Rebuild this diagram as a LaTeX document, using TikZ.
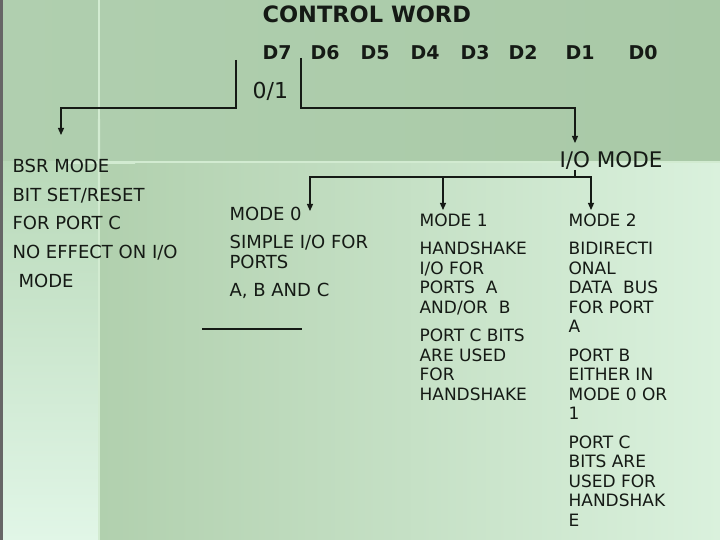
\documentclass[tikz,border=0pt]{standalone}
\usepackage{fontspec}
\setmainfont{DejaVu Sans}
\usetikzlibrary{positioning,arrows.meta}

\definecolor{bandgreen}{HTML}{B0CFAF}
\definecolor{banddark}{HTML}{A9C9A7}
\definecolor{colgreen}{HTML}{B9D9B9}
\definecolor{colpale}{HTML}{E1F6E7}
\definecolor{maingreen}{HTML}{B1D0AE}
\definecolor{mainpale}{HTML}{DAF1DD}
\definecolor{seam}{HTML}{D2EBD1}
\definecolor{glow}{HTML}{5FD65F}
\definecolor{ink}{HTML}{151A15}

\begin{document}
\begin{tikzpicture}[x=1pt, y=-1pt, >=Stealth, line width=1.2pt,
  txt/.style={inner sep=0pt, text=ink},
  bit/.style={txt, anchor=base west, font=\bfseries\fontsize{19}{22}\selectfont},
  col/.style={txt, anchor=north west, align=left,
              font=\fontsize{17}{19.5}\selectfont},
  widecol/.style={col, font=\fontsize{18}{20}\selectfont},
  arr/.style={draw=ink, -{Triangle[width=6pt,length=7pt]}},
  wire/.style={draw=ink}]
  \useasboundingbox (0,0) rectangle (720,540);
  % slide background
  \shade[left color=bandgreen, right color=banddark] (0,0) rectangle (720,162);
  \shade[top color=colgreen, bottom color=colpale] (3,162) rectangle (98,540);
  \shade[left color=maingreen, right color=mainpale] (100,162) rectangle (720,540);
  \fill[black!60] (0,0) rectangle (3,540);
  \fill[seam] (98,0) rectangle (100,540);
  \fill[seam] (100,161.5) rectangle (720,163.5);
  \shade[top color=seam, middle color=glow, bottom color=seam] (97.8,120) rectangle (100.2,205);
  \shade[left color=seam, middle color=glow, right color=seam] (65,161.3) rectangle (135,163.7);

  % heading and bits
  \node[txt, anchor=base west, font=\bfseries\fontsize{22.5}{26}\selectfont]
    (cw) at (262,23) {CONTROL WORD};
  \foreach \b/\x in {7/262,6/310,5/360,4/410,3/460,2/508,1/565,0/628}
    \node[bit] (d\b) at (\x,60) {D\b};
  \node[txt, anchor=base west, font=\fontsize{22}{24}\selectfont]
    (sel) at (252,99) {0/1};

  % modes
  \node[txt, anchor=base west, font=\fontsize{21.5}{24}\selectfont]
    (io) at (559,168) {I/O MODE};
  \node[widecol] (bsr) at (12,158.5) {BSR MODE\\[8.7pt]BIT SET/RESET\\[8.7pt]FOR PORT C\\[8.7pt]%
    NO EFFECT ON I/O\\[8.7pt]\hspace{6pt}MODE};
  \node[widecol] (mode0) at (229,206.5) {MODE 0\\[8pt]SIMPLE I/O FOR\\PORTS\\[8.5pt]A, B AND C};
  \node[col] (mode1) at (419,213) {MODE 1\\[9pt]HANDSHAKE\\I/O FOR\\PORTS\ \ A\\AND/OR\ \ B\\[9pt]%
    PORT C BITS\\ARE USED\\FOR\\HANDSHAKE};
  \node[col] (mode2) at (568,213) {MODE 2\\[9pt]BIDIRECTI\\ONAL\\DATA\ \ BUS\\FOR PORT\\A\\[9pt]%
    PORT B\\EITHER IN\\MODE 0 OR\\1\\[9pt]PORT C\\BITS ARE\\USED FOR\\HANDSHAK\\E};

  % connectors
  \coordinate (selL) at (236,60);
  \coordinate (selR) at (301,58);
  \coordinate (bsrin) at (61,135);
  \coordinate (ioin) at (575,143);
  \coordinate (iostem) at (575,170);
  \coordinate (fork) at (575,177);
  \coordinate (m0in) at (310,211);
  \coordinate (m1in) at (443,210);
  \coordinate (m2in) at (591,210);
  \draw[arr] (selL) -- ++(0,48) -| (bsrin);
  \draw[arr] (selR) -- ++(0,50) -| (ioin);
  \draw[wire] (iostem) -- (fork);
  \draw[arr] (fork) -| (m0in);
  \draw[arr] (fork) -| (m2in);
  \draw[arr] (fork -| m1in) -- (m1in);
  \coordinate (ulA) at (202,329);
  \coordinate (ulB) at (302,329);
  \draw[wire] (ulA) -- (ulB);
\end{tikzpicture}
\end{document}
